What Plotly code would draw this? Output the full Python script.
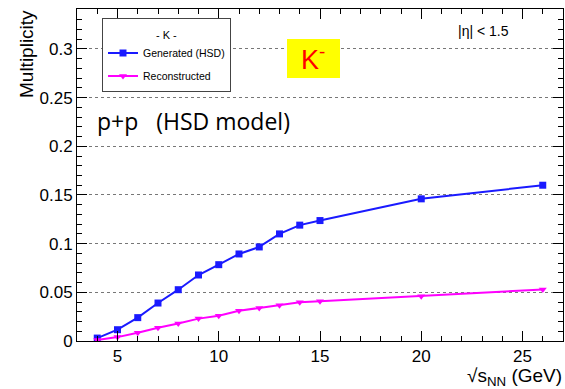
import plotly.graph_objects as go

energies = [4, 5, 6, 7, 8, 9, 10, 11, 12, 13, 14, 15, 20, 26]
generated = [0.003, 0.0116, 0.024, 0.039, 0.0527, 0.0678, 0.0784, 0.0894, 0.0966, 0.110, 0.119, 0.1237, 0.146, 0.160]
reconstructed = [0.001, 0.004, 0.0085, 0.0137, 0.018, 0.023, 0.026, 0.031, 0.034, 0.0367, 0.0398, 0.0408, 0.046, 0.053]

W, H = 565, 389
ML, MR, MT, MB = 77, 2, 9, 48
PW, PH = W - ML - MR, H - MT - MB

def px(x):
    return (x - ML) / PW

def py(y):
    return (H - MB - y) / PH

fig = go.Figure()
fig.add_trace(go.Scatter(x=energies, y=generated, mode="lines+markers", name="Generated (HSD)",
                         legendgroup="g1",
                         line=dict(color="#1a1aff", width=2),
                         marker=dict(symbol="square", size=7, color="#1a1aff")))
fig.add_trace(go.Scatter(x=energies, y=reconstructed, mode="lines+markers", name="Reconstructed",
                         legendgroup="g2",
                         line=dict(color="#ff00ff", width=2),
                         marker=dict(symbol="triangle-down", size=7, color="#ff00ff")))

axis_common = dict(showline=True, linecolor="black", linewidth=1, mirror="ticks",
                   ticks="inside", tickcolor="black", zeroline=False,
                   tickfont=dict(family="Liberation Sans, Arial", size=17, color="black"))

fig.update_xaxes(range=[3, 27], dtick=5, tick0=0, ticklen=10, showgrid=False,
                 minor=dict(dtick=1, tick0=0, ticklen=5, ticks="inside", tickcolor="black", showgrid=False),
                 **axis_common)
fig.update_yaxes(range=[0, 0.341], dtick=0.05, tick0=0, ticklen=10, showgrid=True,
                 gridcolor="#777777", griddash="dot", gridwidth=1,
                 minor=dict(dtick=0.01, tick0=0, ticklen=5, ticks="inside", tickcolor="black", showgrid=False),
                 **axis_common)

fig.add_shape(type="rect", xref="paper", yref="paper",
              x0=px(287), x1=px(340), y0=py(78), y1=py(39),
              fillcolor="#ffff00", line=dict(width=0), layer="above")

fig.add_annotation(xref="paper", yref="paper", x=px(313), y=py(58), xanchor="center", yanchor="middle",
                   text="K<sup>-</sup>",
                   showarrow=False, font=dict(family="Liberation Sans, Arial", size=27, color="red"))
fig.add_annotation(xref="paper", yref="paper", x=px(483), y=py(31), xanchor="center", yanchor="middle",
                   text="|η|\u00a0< 1.5",
                   showarrow=False, font=dict(family="Liberation Sans, Arial", size=14, color="black"))
fig.add_annotation(xref="paper", yref="paper", x=px(95), y=py(121), xanchor="left", yanchor="middle",
                   text="p+p\u00a0\u00a0\u00a0(HSD model)",
                   showarrow=False, font=dict(family="Open Sans", size=23, color="black"))
fig.add_annotation(xref="paper", yref="paper", x=px(27), y=py(8), xanchor="center", yanchor="top",
                   text="Multiplicity", textangle=-90,
                   showarrow=False, font=dict(family="Liberation Sans, Arial", size=19, color="black"))
fig.add_annotation(xref="paper", yref="paper", x=px(564), y=py(377), xanchor="right", yanchor="middle",
                   text="√s<sub>NN</sub> (GeV)",
                   showarrow=False, font=dict(family="Liberation Sans, Arial", size=19, color="black"))

fig.update_layout(
    width=W, height=H,
    margin=dict(l=ML, r=MR, t=MT, b=MB, pad=0),
    paper_bgcolor="white", plot_bgcolor="white",
    showlegend=True,
    legend=dict(x=px(102), y=py(18), xanchor="left", yanchor="top",
                bgcolor="white", bordercolor="#444444", borderwidth=1,
                title=dict(text="<span style='font-size:11px'>- K -</span>", side="top center",
                           font=dict(family="Liberation Sans, Arial", size=15, color="black")),
                font=dict(family="Liberation Sans, Arial", size=10.5, color="black"),
                tracegroupgap=4, itemwidth=30),
)

fig.write_html("out.html")
